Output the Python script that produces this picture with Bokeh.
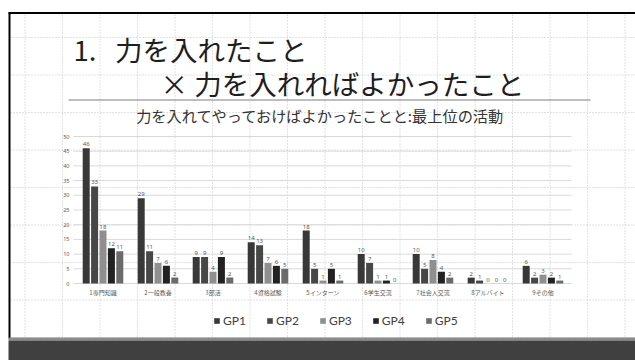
from bokeh.plotting import figure
from bokeh.models import Range1d, ColumnDataSource, Legend, LegendItem
from bokeh.transform import dodge
from bokeh.core.properties import value
from bokeh.embed import file_html
from bokeh.resources import INLINE
import numpy as np

# --- data -------------------------------------------------------------
categories = ["1専門知識", "2一般教養", "3部活", "4資格試験", "5インターン",
              "6学生交流", "7社会人交流", "8アルバイト", "9その他"]
groups = ["GP1", "GP2", "GP3", "GP4", "GP5"]
gp1 = [46, 29, 9, 14, 18, 10, 10, 2, 6]
gp2 = [33, 11, 9, 13, 5, 7, 5, 1, 2]
gp3 = [18, 7, 4, 7, 1, 1, 8, 0, 3]
gp4 = [12, 6, 9, 6, 5, 1, 4, 0, 2]
gp5 = [11, 2, 2, 5, 1, 0, 2, 0, 1]
y_ticks = [0, 5, 10, 15, 20, 25, 30, 35, 40, 45, 50]

title_1 = "1.\u00a0\u00a0\u00a0力を入れたこと"
title_2 = "× 力を入れればよかったこと"
subtitle = "力を入れてやっておけばよかったことと:最上位の活動"

series = [gp1, gp2, gp3, gp4, gp5]
colors = ["#383838", "#474747", "#8f8f8f", "#222222", "#6b6b6b"]

W, H = 635, 360
JP = value("Noto Sans CJK JP")

# page coordinates: x to the right, y downward (pixels)
p = figure(width=W, height=H, x_range=Range1d(0, W), y_range=Range1d(H, 0),
           output_backend="svg", toolbar_location=None, min_border=0,
           background_fill_color="white", border_fill_color="white")
p.axis.visible = False
p.grid.visible = False
p.outline_line_color = None

# chart scales: category index across, count upward
cat_px, cat_x0 = 55.0, 102.5          # pixels per category, centre of first
val_px, val_y0 = 2.94, 77.0           # pixels per unit, zero from bottom
p.extra_x_ranges = {"cat": Range1d(-cat_x0 / cat_px, (W - cat_x0) / cat_px)}
p.extra_y_ranges = {"val": Range1d(-val_y0 / val_px, (H - val_y0) / val_px)}

# --- slide background: dotted guide grid --------------------------------
gx = np.arange(24.5, W, 37.5)
gy = np.arange(37.0, 338, 37.5)
p.segment(x0=gx, y0=14, x1=gx, y1=337, line_color="#c4c4c4",
          line_width=1, line_dash="1 2")
p.segment(x0=10, y0=gy, x1=W, y1=gy, line_color="#c4c4c4",
          line_width=1, line_dash="1 2")

# slide frame and bottom band
p.segment(x0=[8, 9], y0=[12.5, 12], x1=[W, 9], y1=[12.5, 338],
          line_color="black", line_width=2)
p.quad(left=8, right=W, top=337, bottom=340, fill_color="#8a8a8a", line_color=None)
p.quad(left=8, right=W, top=340, bottom=H, fill_color="#404040", line_color=None)

# --- headings ----------------------------------------------------------
p.text(x=[73], y=[48], text=[title_1], text_font=JP, text_font_size="27.5px",
       text_color="#1e1e1e", text_baseline="middle")
p.text(x=[160], y=[82], text=[title_2], text_font=JP, text_font_size="27.5px",
       text_color="#1e1e1e", text_baseline="middle")
p.segment(x0=[68], y0=[99.5], x1=[590], y1=[99.5], line_color="#a8a8a8", line_width=1.5)
p.text(x=[320], y=[114], text=[subtitle], text_font=JP, text_font_size="15.2px",
       text_color="#333333", text_align="center", text_baseline="middle")

# --- chart -------------------------------------------------------------
p.segment(x0=73, y0=y_ticks, x1=571, y1=y_ticks, y_range_name="val",
          line_color="#d9d9d9", line_width=1)
p.text(x=69, y=y_ticks, text=[str(t) for t in y_ticks], y_range_name="val",
       text_font=value("Noto Sans"), text_font_size="5.5px", text_color="#595959",
       text_align="right", text_baseline="middle")

data = {"idx": list(range(len(categories))), "cat": categories}
for g, s in zip(groups, series):
    data[g] = s
    data[g + "_lbl"] = [str(v) for v in s]
src = ColumnDataSource(data)

pitch = 8.4 / cat_px
bar_w = 7.0 / cat_px
items = []
for k, (g, c) in enumerate(zip(groups, colors)):
    off = (k - 2) * pitch
    r = p.vbar(x=dodge("idx", off), top=g, bottom=0, width=bar_w, source=src,
               x_range_name="cat", y_range_name="val",
               fill_color=c, line_color=None)
    p.text(x=dodge("idx", off), y=g, text=g + "_lbl", source=src,
           x_range_name="cat", y_range_name="val", y_offset=-2,
           text_font=value("Noto Sans"), text_font_size="6px", text_color="#595959",
           text_align="center", text_baseline="bottom")
    items.append(LegendItem(label=g, renderers=[r]))

p.text(x="idx", y=292, text="cat", source=src, x_range_name="cat",
       text_font=JP, text_font_size="6px", text_color="#595959",
       text_align="center", text_baseline="middle")

legend = Legend(items=items, orientation="horizontal", location=(213, 32),
                glyph_width=7, glyph_height=7, label_standoff=3, spacing=20,
                padding=0, margin=0, label_height=12,
                label_text_font="Lato", label_text_font_size="12px",
                label_text_color="#404040", label_text_baseline="middle",
                border_line_color=None, background_fill_alpha=0)
p.add_layout(legend, "center")

open("out.html", "w").write(file_html(p, INLINE))
